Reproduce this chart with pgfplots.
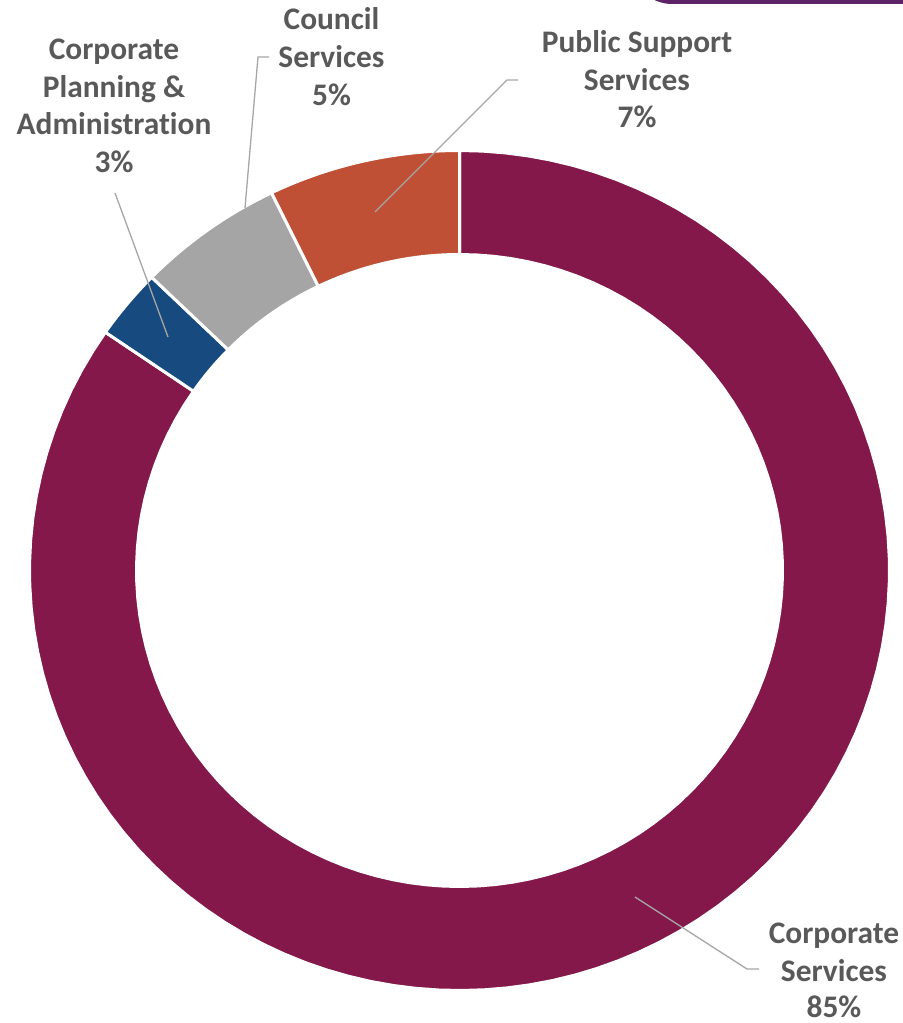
\documentclass[border=0pt]{standalone}
\usepackage{pgfplots}
\pgfplotsset{compat=1.18}
\usepackage{pgfplotstable}
\usepackage{fontspec}
\setmainfont{Carlito}[Ligatures={NoCommon}]
\definecolor{cMaroon}{HTML}{84184A}
\definecolor{cBlue}{HTML}{174A7E}
\definecolor{cGray}{HTML}{A5A5A5}
\definecolor{cOrange}{HTML}{C05035}
\definecolor{cText}{HTML}{595959}
\definecolor{cLine}{HTML}{A6A6A6}
\definecolor{cPurple}{HTML}{5C2466}

\pgfplotstableread{
label value
CorporateServices 84.6
CorporatePlanning 2.7
CouncilServices 5.5
PublicSupport 7.2
}\datatable

\begin{document}%
\begin{tikzpicture}[
  declare function={
    ang(\u,\p,\q) = (\u<=1) ? (\p+(\q-\p)*\u) : ((\u<=2) ? \q : (\q-(\q-\p)*(\u-2)));
    ff(\u) = (\u<=1) ? 1 : ((\u<=2) ? (2-\u) : 0);
  },
  lbl/.style={anchor=base, inner sep=0pt, text=cText, font=\bfseries\fontsize{31.5}{38}\selectfont},
  lead/.style={draw=cLine, line width=1.3bp}
]
\pgfplotstablegetelem{0}{value}\of\datatable \let\vA\pgfplotsretval
\pgfplotstablegetelem{1}{value}\of\datatable \let\vB\pgfplotsretval
\pgfplotstablegetelem{2}{value}\of\datatable \let\vC\pgfplotsretval
\pgfplotstablegetelem{3}{value}\of\datatable \let\vD\pgfplotsretval
\pgfmathsetmacro\kA{0}
\pgfmathsetmacro\kB{\kA+3.6*\vA}
\pgfmathsetmacro\kC{\kB+3.6*\vB}
\pgfmathsetmacro\kD{\kC+3.6*\vC}
\pgfmathsetmacro\kE{\kD+3.6*\vD}
\useasboundingbox (0,0) rectangle (903bp,1023bp);
\begin{axis}[at={(0,0)}, anchor=south west, scale only axis,
  width=903bp, height=1023bp, xmin=0, xmax=903, ymin=0, ymax=1023,
  y dir=reverse, hide axis, clip=false]
\pgfplotsset{ring/.style={draw=white, line width=3bp, domain=0:3, samples=301, variable=\t}}
\addplot[ring, fill=cMaroon] ({459.5+(323+107*ff(\t))*sin(ang(\t,\kA,\kB))},{570.5-(316+104*ff(\t))*cos(ang(\t,\kA,\kB))}) -- cycle;
\addplot[ring, fill=cBlue] ({459.5+(323+107*ff(\t))*sin(ang(\t,\kB,\kC))},{570.5-(316+104*ff(\t))*cos(ang(\t,\kB,\kC))}) -- cycle;
\addplot[ring, fill=cGray] ({459.5+(323+107*ff(\t))*sin(ang(\t,\kC,\kD))},{570.5-(316+104*ff(\t))*cos(ang(\t,\kC,\kD))}) -- cycle;
\addplot[ring, fill=cOrange] ({459.5+(323+107*ff(\t))*sin(ang(\t,\kD,\kE))},{570.5-(316+104*ff(\t))*cos(ang(\t,\kD,\kE))}) -- cycle;

% leader lines
\addplot[lead, no markers] coordinates {(375,212) (507,80) (518,80)};
\addplot[lead, no markers] coordinates {(245,208) (258,57) (269,57)};
\addplot[lead, no markers] coordinates {(168,337) (115,193)};
\addplot[lead, no markers] coordinates {(635,897) (747,969) (759,969)};

% labels
\node[lbl] at (axis cs:331.5,30) {Council};
\node[lbl] at (axis cs:331.5,68) {Services};
\node[lbl] at (axis cs:331.5,106) {5\%};

\node[lbl] at (axis cs:114,60) {Corporate};
\node[lbl] at (axis cs:114,97.5) {Planning \&};
\node[lbl] at (axis cs:114,135) {Administration};
\node[lbl] at (axis cs:114,173) {3\%};

\node[lbl] at (axis cs:637,53) {Public Support};
\node[lbl] at (axis cs:637,91) {Services};
\node[lbl] at (axis cs:637,128) {7\%};

\node[lbl] at (axis cs:834,943) {Corporate};
\node[lbl] at (axis cs:834,981) {Services};
\node[lbl] at (axis cs:834,1017) {85\%};

\fill[cPurple, rounded corners=40bp] (axis cs:632,-100) rectangle (axis cs:1000,4);
\end{axis}
\end{tikzpicture}%
\end{document}
